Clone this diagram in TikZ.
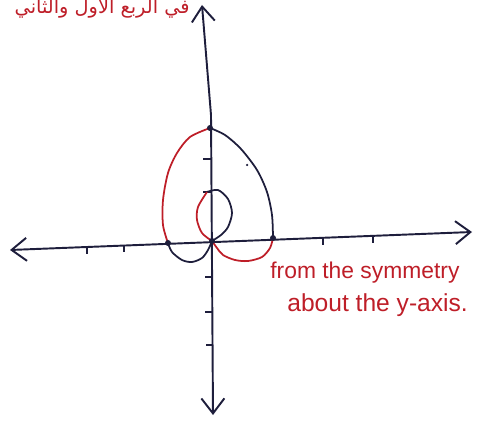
\documentclass[tikz,border=0pt]{standalone}
\usepackage{fontspec}
\setmainfont{Liberation Sans}
\newfontfamily\arabicfont[Script=Arabic]{DejaVu Sans}
\TeXXeTstate=1
\usetikzlibrary{arrows.meta}
\definecolor{inkred}{RGB}{190,30,40}
\definecolor{inkblack}{RGB}{30,30,60}

\begin{document}
\begin{tikzpicture}[
    x=0.02cm, y=-0.02cm,
    >={Straight Barb[length=0.3cm, width=0.46cm]},
    axis/.style={<->, inkblack, line width=1.1pt},
    tickmark/.style={inkblack, line width=1.1pt},
    blk/.style={inkblack, line width=1pt},
    redink/.style={inkred, line width=1pt},
    dot/.style={circle, fill=inkblack, inner sep=0pt, minimum size=0.12cm},
    note/.style={inkred, font=\fontsize{13}{15}\selectfont, anchor=base west, inner sep=0pt}
  ]
  \useasboundingbox (0,0) rectangle (487,422);

  % --- Points ---
  \coordinate (xl) at (10,250);
  \coordinate (xr) at (472,232);
  \coordinate (yt) at (202,5);
  \coordinate (ybend) at (211,115);
  \coordinate (yb) at (213,415);
  \coordinate (O) at (212,241);
  \coordinate (top) at (210,128);
  \coordinate (lft) at (168,243);
  \coordinate (rgt) at (273,238);
  \coordinate (itop) at (207,192);

  % --- Axes ---
  \draw[axis] (xl) -- (xr);
  \draw[axis] (yt) -- (ybend) -- (yb);

  \draw[tickmark] (87,247) -- ++(0,7);
  \draw[tickmark] (124,245) -- ++(0,7);
  \draw[tickmark] (323,238) -- ++(0,7);
  \draw[tickmark] (373,236) -- ++(0,7);
  \draw[tickmark] (211,159) -- ++(-8,0);
  \draw[tickmark] (211,192) -- ++(-8,0);
  \draw[tickmark] (212,277) -- ++(-7,0);
  \draw[tickmark] (212,312) -- ++(-7,0);
  \draw[tickmark] (213,345) -- ++(-7,0);

  % --- Limacon ---
  \draw[blk] plot[smooth] coordinates {(rgt) (272,215) (267,192) (257,170) (241,149) (225,135) (top)};
  \draw[redink] plot[smooth] coordinates {(top) (190,137) (177,153) (168,173) (163,200) (163,225) (lft)};
  \draw[blk] plot[smooth] coordinates {(lft) (172,252) (182,260) (192,262) (202,258) (208,250) (O)};
  \draw[redink] plot[smooth] coordinates {(O) (217,248) (223,255) (235,260) (248,261) (262,257) (270,248) (rgt)};
  \draw[blk] plot[smooth] coordinates {(itop) (218,190) (228,199) (232,213) (228,227) (221,235) (O)};
  \draw[redink] plot[smooth] coordinates {(O) (202,233) (197,220) (198,207) (itop)};

  \node[dot] (topdot) at (top) {};
  \node[dot] (lftdot) at (lft) {};
  \node[dot] (odot) at (O) {};
  \node[dot] (rgtdot) at (rgt) {};
  \node[dot, minimum size=0.05cm] (speck) at (247,165) {};

  % --- Notes ---
  \node[inkred, font=\arabicfont\fontsize{11}{13}\selectfont, anchor=base east, inner sep=0pt] (quad) at (190,14) {\beginR في الربع الاول والثاني\endR};
  \node[note] (sym1) at (270,278) {from the symmetry};
  \node[note, font=\fontsize{14}{16}\selectfont] (sym2) at (287,312) {about the y-axis.};
\end{tikzpicture}
\end{document}
